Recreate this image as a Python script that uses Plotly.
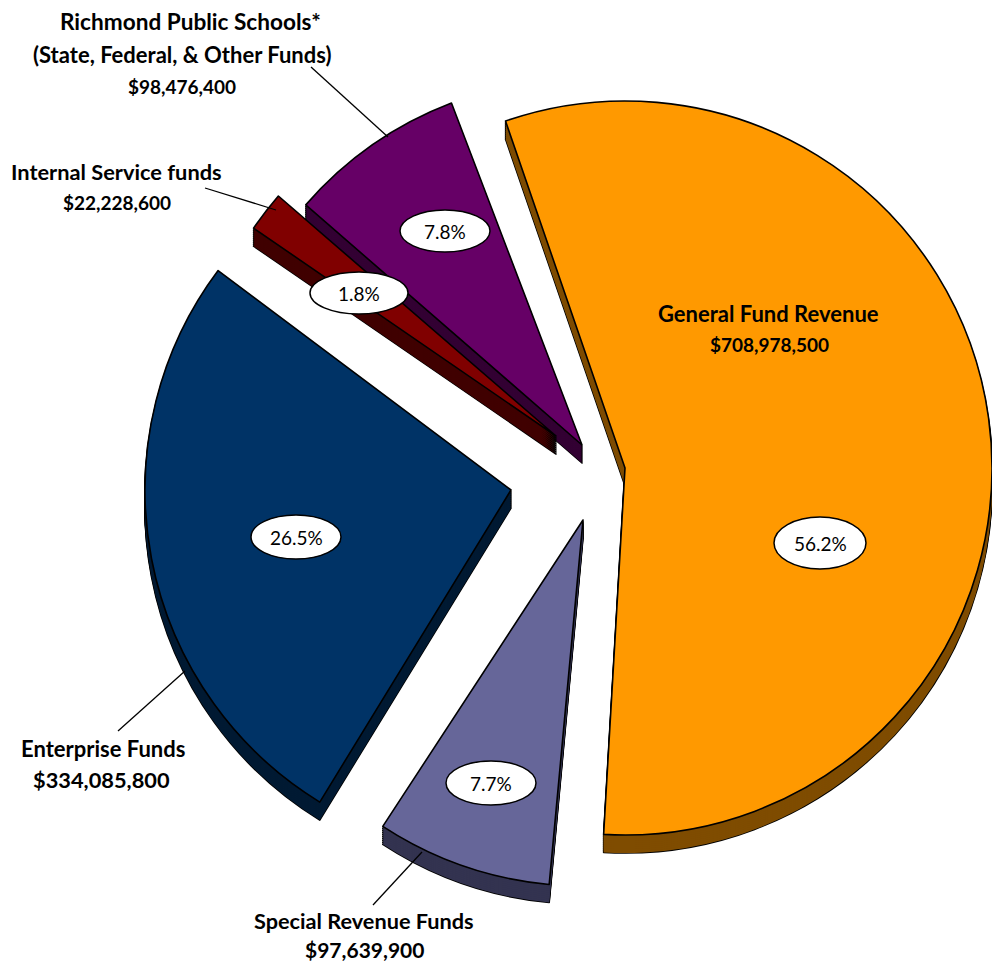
import plotly.graph_objects as go

categories = ["General Fund Revenue", "Special Revenue Funds", "Enterprise Funds",
              "Internal Service funds", "Richmond Public Schools*"]
values = [708978500, 97639900, 334085800, 22228600, 98476400]
total = sum(values)

W, H = 992, 963
face = ["#FF9900", "#666699", "#003366", "#800000", "#660066"]
side = ["#7F4C00", "#333350", "#001A33", "#400000", "#330033"]
centers = [(625, 468), (583, 520), (511, 490), (556, 436), (582, 445)]
radii = [367, 366, 366, 367, 366]
rotations = [-19, 185.3, 211.5, 304.5, 311]
depth_steps = [18, 16, 14, 12, 10, 8, 6, 4, 2]

pct_pos = [(820, 543), (491, 783), (296, 537), (359, 293), (445, 231)]
ell_rx = [46, 45, 45, 49, 45]
ell_ry = [26, 22, 22, 21, 21]

fig = go.Figure()


def add_slice(i, dy, colour, line_w):
    cx, cy = centers[i]
    r = radii[i]
    cy = cy + dy
    fig.add_trace(go.Pie(
        values=[values[i], total - values[i]],
        labels=[categories[i], "rest"],
        sort=False, direction="clockwise", rotation=rotations[i],
        domain=dict(x=[(cx - r) / W, min(1, (cx + r) / W)],
                    y=[1 - (cy + r) / H, 1 - (cy - r) / H]),
        marker=dict(colors=[colour, "rgba(0,0,0,0)"],
                    line=dict(color=["#000000", "rgba(0,0,0,0)"], width=[line_w, 0])),
        textinfo="none", hoverinfo="skip", showlegend=False,
    ))


for i in [1, 2, 0, 4, 3]:
    for dy in depth_steps:
        add_slice(i, dy, side[i], 1.6)
    for dy in depth_steps:
        add_slice(i, dy, side[i], 0)
    add_slice(i, 0, face[i], 1.6)

shapes = []
for (x, y), rx, ry in zip(pct_pos, ell_rx, ell_ry):
    shapes.append(dict(type="circle", xref="paper", yref="paper",
                       x0=(x - rx) / W, x1=(x + rx) / W,
                       y0=1 - (y + ry) / H, y1=1 - (y - ry) / H,
                       fillcolor="white", line=dict(color="black", width=1.5)))
leaders = [((311, 67), (388, 137)), ((205, 188), (276, 210)),
           ((118, 731), (185, 671)), ((373, 905), (422, 852))]
for (x0, y0), (x1, y1) in leaders:
    shapes.append(dict(type="line", xref="paper", yref="paper",
                       x0=x0 / W, x1=x1 / W, y0=1 - y0 / H, y1=1 - y1 / H,
                       line=dict(color="black", width=1.3)))

annotations = []


def text(x, y, s, size=22, bold=True):
    annotations.append(dict(xref="paper", yref="paper", x=x / W, y=1 - y / H,
                            text=f"<b>{s}</b>" if bold else s, showarrow=False,
                            xanchor="center", yanchor="middle",
                            font=dict(family="Lato", size=size, color="black")))


for (x, y), v in zip(pct_pos, values):
    text(x, y, f"{v / total * 100:.1f}%", size=19, bold=False)

money = [f"${v:,}" for v in values]
text(768.5, 314, categories[0])
text(769.5, 345, money[0], size=19)
text(364, 921, categories[1], size=21.7)
text(364, 949, money[1], size=21)
text(102.5, 748, categories[2])
text(101, 779, money[2], size=21.8)
text(116.5, 172, categories[3], size=21.8)
text(116.5, 202, money[3], size=19)
text(190, 21, categories[4], size=22.6)
text(182, 55, "(State, Federal, &amp; Other Funds)")
text(182, 86, money[4], size=19)

fig.update_layout(width=W, height=H, autosize=False,
                  margin=dict(l=0, r=0, t=0, b=0),
                  paper_bgcolor="white", shapes=shapes, annotations=annotations)
fig.write_html("out.html", post_script="document.body.style.margin='0';",
               config=dict(displayModeBar=False))
